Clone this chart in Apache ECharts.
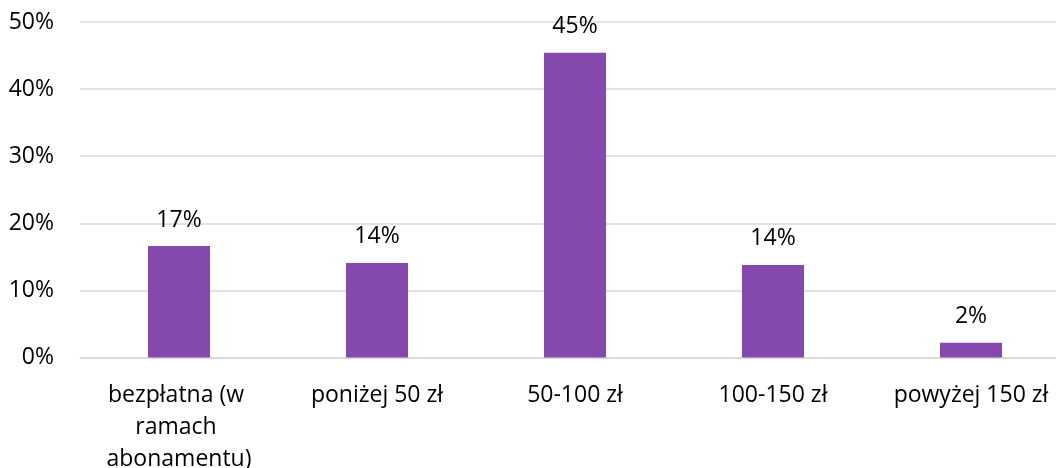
<!DOCTYPE html>
<html>
<head>
<meta charset="utf-8">
<script src="https://cdn.jsdelivr.net/npm/echarts@6/dist/echarts.min.js"></script>
<style>
html,body{margin:0;padding:0;background:#fff;}
#chart{width:1056px;height:468px;}
</style>
</head>
<body>
<div id="chart"></div>
<script>
const categories = ['bezpłatna (w ramach abonamentu)', 'poniżej 50 zł', '50-100 zł', '100-150 zł', 'powyżej 150 zł'];
const shares = [16.6, 14.1, 45.4, 13.8, 2.2];
const yTicks = [0, 10, 20, 30, 40, 50];

const FONT = '"Open Sans", sans-serif';
const chart = echarts.init(document.getElementById('chart'), null, {renderer: 'canvas'});
chart.setOption({
  animation: false,
  backgroundColor: '#ffffff',
  grid: {left: 80, right: -14, top: 22, bottom: 110.5, containLabel: false, outerBoundsMode: 'none'},
  xAxis: {
    type: 'category',
    data: categories,
    axisLine: {show: true, lineStyle: {color: '#d9d9d9', width: 1.5}},
    axisTick: {show: false},
    axisLabel: {
      interval: 0,
      margin: 22,
      color: '#000',
      fontFamily: FONT,
      fontSize: 23,
      lineHeight: 32,
      width: 192,
      overflow: 'break'
    }
  },
  yAxis: {
    type: 'value',
    min: yTicks[0],
    max: yTicks[yTicks.length - 1],
    interval: 10,
    axisLine: {show: false},
    axisTick: {show: false},
    splitLine: {lineStyle: {color: '#d9d9d9', width: 1.5}},
    axisLabel: {
      margin: 26,
      color: '#000',
      fontFamily: FONT,
      fontSize: 23,
      formatter: v => v + '%'
    }
  },
  series: [{
    type: 'bar',
    data: shares,
    barWidth: 62,
    itemStyle: {color: '#8549AE'},
    label: {
      show: true,
      position: 'top',
      distance: 11,
      color: '#000',
      fontFamily: FONT,
      fontSize: 23,
      lineHeight: 30,
      formatter: p => Math.round(p.value) + '%'
    }
  }]
});
</script>
</body>
</html>
